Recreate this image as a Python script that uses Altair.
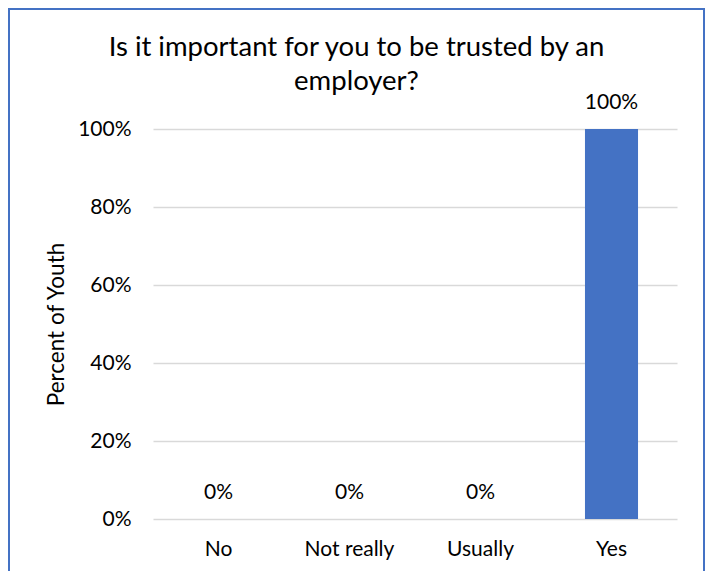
import altair as alt
import pandas as pd

categories = ["No", "Not really", "Usually", "Yes"]
values = [0.0, 0.0, 0.0, 1.0]
labels = ["0%", "0%", "0%", "100%"]

df = pd.DataFrame({"cat": categories, "val": values, "lab": labels})

FONT = "Lato"
W, H = 524, 390

base = alt.Chart(df)

bars = base.mark_bar(color="#4472C4").encode(
    x=alt.X("cat:N", sort=categories,
            scale=alt.Scale(paddingInner=0.595, paddingOuter=0.2975),
            axis=alt.Axis(title=None, labelAngle=0, labelFontSize=21, labelFont=FONT,
                          labelColor="#000000", labelPadding=19, ticks=False, domain=False)),
    y=alt.Y("val:Q", scale=alt.Scale(domain=[0, 1]),
            axis=alt.Axis(title="Percent of Youth", format=".0%", values=[0, 0.2, 0.4, 0.6, 0.8, 1.0],
                          labelFontSize=21, labelFont=FONT, labelColor="#000000", labelPadding=22,
                          titleFont=FONT, titleFontSize=22.5, titleFontWeight="normal", titleColor="#000000",
                          titlePadding=9,
                          ticks=False, domain=False, grid=True, gridColor="#d9d9d9", gridWidth=1.3)),
)

text = base.mark_text(baseline="bottom", dy=-16, fontSize=21, font=FONT, color="#000000").encode(
    x=alt.X("cat:N", sort=categories),
    y=alt.Y("val:Q"),
    text="lab:N",
)

border = alt.Chart(df).mark_rect(fill=None, stroke="#4472C4", strokeWidth=2).encode(
    x=alt.value(-144), x2=alt.value(551), y=alt.value(-120), y2=alt.value(449)
)

chart = alt.layer(bars, text, border).properties(
    width=W, height=H,
    title=alt.TitleParams(
        text=["Is it important for you to be trusted by an", "employer?"],
        font=FONT, fontSize=27.5, fontWeight="normal", color="#000000",
        anchor="middle", offset=-87, lineHeight=34,
    ),
    padding={"left": 145, "top": 121, "right": 29, "bottom": 52},
    autosize=alt.AutoSizeParams(type="none"),
).configure_view(stroke=None).configure_title(frame="bounds")

chart.save("out.html", embed_options={"renderer": "svg", "actions": False})
